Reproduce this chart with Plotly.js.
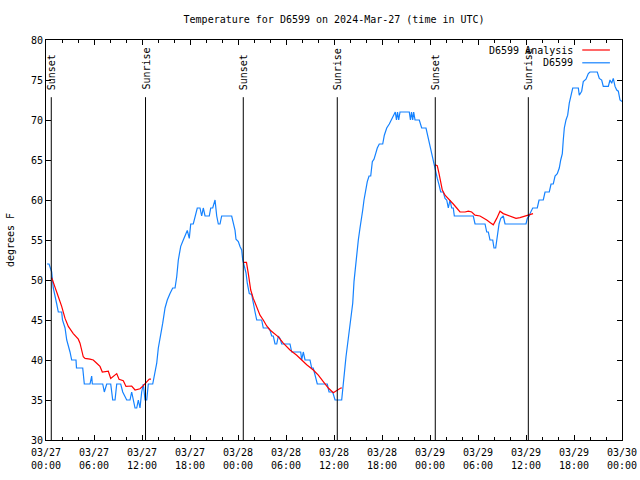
<!DOCTYPE html>
<html>
<head>
<meta charset="utf-8">
<script src="https://cdn.plot.ly/plotly-3.0.1.min.js"></script>
<style>html,body{margin:0;padding:0;background:#fff;}#chart{width:640px;height:480px;}</style>
</head>
<body>
<div id="chart"></div>
<script>
// Hours since 2024-03-27 00:00 UTC
const obsHours = [0.13,0.38,0.71,0.91,1.34,1.54,1.96,2.06,2.38,2.59,3.0,3.21,3.75,3.81,4.59,4.79,5.5,5.71,5.79,7.09,7.29,7.59,8.09,8.34,8.63,8.84,9.34,9.59,10.09,10.5,10.71,10.91,11.13,11.34,11.54,11.75,11.96,12.16,12.38,12.59,12.79,13.34,13.63,13.84,14.04,14.34,14.59,14.88,15.16,15.5,15.84,16.13,16.34,16.54,16.84,17.16,17.5,17.66,17.91,18.09,18.41,18.63,18.91,19.25,19.46,19.66,19.88,20.41,20.59,20.84,21.0,21.13,21.34,21.54,21.75,21.96,23.21,23.41,23.63,23.75,24.04,24.25,24.46,24.59,24.75,25.0,25.16,25.41,25.71,25.91,26.13,26.34,26.96,27.16,27.79,28.0,28.21,28.41,28.63,28.84,29.04,29.25,29.46,30.5,30.71,31.84,31.96,32.16,32.38,33.0,33.21,33.41,33.63,33.91,35.16,35.38,35.84,36.13,36.96,37.16,37.25,37.38,37.5,37.79,38.0,38.13,38.34,38.5,38.71,38.84,39.04,39.25,39.46,39.59,39.75,39.96,40.16,40.38,40.59,40.79,41.0,41.21,41.41,41.66,42.09,42.29,42.59,42.91,43.21,43.5,43.66,43.81,43.94,44.09,44.25,45.41,45.56,45.69,45.84,45.96,46.13,46.66,46.96,47.5,47.66,47.88,48.09,48.29,48.5,48.71,48.91,49.13,49.34,49.66,49.88,50.09,50.29,50.5,50.71,50.91,51.04,53.41,53.63,54.88,55.09,55.29,55.5,55.84,56.0,56.21,56.41,56.63,56.84,57.16,57.38,60.0,60.16,60.41,60.5,60.84,61.41,61.63,62.16,62.38,62.91,63.13,63.41,63.63,63.91,64.16,64.34,64.54,64.66,64.79,65.0,65.21,65.41,65.63,65.84,66.54,66.66,66.96,67.16,67.5,67.79,68.0,68.91,69.16,69.46,69.66,70.29,70.5,70.71,70.91,71.13,71.34,71.54,71.75,72.0];
const obsTemps = [52,52,51,49,47,46,46,45,44,42.5,41,40,40,39,39,37,37,38,37,37,36,37,37,35,35,37,37,36,35,35,36,35,34,34,35,34,36,37,35,35,37,37,38.5,39.6,41.5,43,44.6,46.5,47.5,48.3,49,49,50.4,52.5,54.2,55,55.8,56.2,55.2,57,57,58,59,59,58,59,58,58,59,59,59.6,60,58,57,57,58,58,57.3,56.2,55.1,54.8,54.2,53.75,52.5,51.9,50.9,49.6,48.3,48.2,46.9,46,45,45,44,44,43.75,43,43,42,42,43,42.7,42,42,41,41,40,41,40,40,39,39,38,37,37,36,36,35,35,36.7,37.7,39.2,40.4,42.5,44.2,45.4,47.1,49.8,52.1,53.3,55,56.5,57.7,58.75,60,61.5,62.3,63,63,64.8,65.1,65.8,66.5,67,67,68.1,69,69.5,70.1,70.6,71,70,71,70,71,71,70,71,70,71,70,70,69,69,68.3,67.3,66.25,65.2,64.4,63.3,62.7,61.9,61,61,60.2,60,59,60,59,59,58,58,57,57,56,56,55,55,54,54,55.6,57,57.7,58,57,57,57.7,58,58.3,59,59,60,60,61,61,62,62,63,63.3,64,65,65.8,67.5,69,70,70.6,72.1,72.9,74,74,73.1,73.6,74.8,75.1,75.8,76,76,75.2,75,74.2,74.2,75,74.6,75.2,74.2,73.75,73.6,72.5,72.3];

const anaHours1 = [0.71,1.13,1.54,1.96,2.38,2.79,3.41,4.04,4.25,4.66,4.88,5.5,5.91,6.34,6.75,7.04,7.79,8.09,8.84,9.13,9.66,10.0,10.71,11.13,11.75,12.16,12.59,12.91,13.13];
const anaTemps1 = [50.3,49.2,47.9,46.7,45.2,44.2,43.3,42.6,42.1,40.4,40.2,40.1,40,39.6,39.2,38.5,38.6,37.7,38.3,37.6,37.4,36.7,36.75,36.25,36.4,36.8,37.3,37.6,37.6];
const anaHours2 = [24.75,25.06,25.29,25.59,25.91,26.34,26.75,27.16,27.59,28.0,28.63,29.04,29.66,30.5,31.34,31.96,32.59,33.41,34.04,34.66,35.29,35.91,36.41,36.84,37.0];
const anaTemps2 = [52.2,52.2,50.8,48.75,47.7,46.5,45.6,45,44.25,43.75,43.2,42.9,42.1,41.25,40.6,40,39.4,38.75,38.1,37.3,36.5,35.9,36.25,36.5,36.5];
const anaHours3 = [48.63,48.91,49.13,49.34,49.54,49.88,50.29,50.91,51.34,51.75,52.38,52.79,53.21,53.63,54.25,54.66,55.09,55.5,55.91,56.34,56.75,57.16,57.66,58.21,58.75,59.25,59.88,60.29,60.71,60.88];
const anaTemps3 = [64.4,64.3,63.3,62.3,61.25,60.6,60.2,59.5,59,58.5,58.5,58.6,58.5,58.1,58,57.8,57.5,57.2,56.9,57.7,58.6,58.3,58.1,57.9,57.7,57.8,58,58.1,58.3,58.3];

const sunHours = [0.66,12.44,24.66,36.41,48.66,60.29];
const sunLabels = ["Sunset","Sunrise","Sunset","Sunrise","Sunset","Sunrise"];

const seriesNames = ["D6599 Analysis","D6599"];
const seriesColors = ["#ff0000","#1482ff"];
const titleText = "Temperature for D6599 on 2024-Mar-27 (time in UTC)";
const yTitle = "degrees F";

const BASE = Date.UTC(2024,2,27,0,0,0);
function toDate(h){ return new Date(BASE + Math.round(h*3600000)).toISOString().replace('T',' ').slice(0,19); }

const anaX = [], anaY = [];
[[anaHours1,anaTemps1],[anaHours2,anaTemps2],[anaHours3,anaTemps3]].forEach((s,i)=>{
  if(i>0){ anaX.push(null); anaY.push(null); }
  s[0].forEach((h,j)=>{ anaX.push(toDate(h)); anaY.push(s[1][j]); });
});

const FONT = {family:"DejaVu Sans Mono, monospace", size:10, color:"#000"};

const traces = [
  {x: obsHours.map(toDate), y: obsTemps, type:'scatter', mode:'lines', name:seriesNames[1],
   line:{color:seriesColors[1], width:1.2}, showlegend:false, connectgaps:false},
  {x: anaX, y: anaY, type:'scatter', mode:'lines', name:seriesNames[0],
   line:{color:seriesColors[0], width:1.2}, showlegend:false, connectgaps:false}
];

const shapes = [];
const annotations = [];
sunHours.forEach((h,i)=>{
  shapes.push({type:'line', xref:'x', yref:'paper', x0:toDate(h), x1:toDate(h), y0:0, y1:0.857,
    line:{color:'#000', width:1}});
  annotations.push({xref:'x', yref:'paper', x:toDate(h), y:0.87, text:sunLabels[i], showarrow:false,
    textangle:-90, xanchor:'center', yanchor:'bottom', font:FONT});
});
// gnuplot-style legend (text then sample line)
const legRows = [0.975, 0.943];
seriesNames.forEach((n,i)=>{
  annotations.push({xref:'paper', yref:'paper', x:0.919, y:legRows[i], text:n, showarrow:false,
    xanchor:'right', yanchor:'middle', font:FONT});
  shapes.push({type:'line', xref:'paper', yref:'paper', x0:0.931, x1:0.979, y0:legRows[i], y1:legRows[i],
    line:{color:seriesColors[i], width:1.2}});
});

const layout = {
  width:640, height:480,
  margin:{l:46, r:18, t:40, b:40},
  paper_bgcolor:'#fff', plot_bgcolor:'#fff',
  font:FONT,
  title:{text:titleText, font:FONT, x:0.522, xanchor:'center', y:0.96, yanchor:'middle'},
  showlegend:false,
  xaxis:{type:'date', range:[toDate(0), toDate(72)], dtick:21600000, tick0:toDate(0),
    tickformat:'%m/%d<br>%H:%M', ticks:'inside', ticklen:5, tickcolor:'#000', tickwidth:1,
    ticklabelstandoff:3,
    showline:true, linecolor:'#000', linewidth:1, mirror:'allticks', showgrid:false, zeroline:false,
    tickfont:FONT, minor:{dtick:7200000, ticks:'inside', ticklen:3, tickcolor:'#000', showgrid:false}},
  yaxis:{range:[30,80], dtick:5, ticks:'inside', ticklen:5, tickcolor:'#000', tickwidth:1,
    showline:true, linecolor:'#000', linewidth:1, mirror:'allticks', showgrid:false, zeroline:false,
    tickfont:FONT, title:{text:yTitle, font:FONT, standoff:14}},
  shapes:shapes, annotations:annotations
};

Plotly.newPlot('chart', traces, layout, {staticPlot:true, displayModeBar:false});
</script>
</body>
</html>
